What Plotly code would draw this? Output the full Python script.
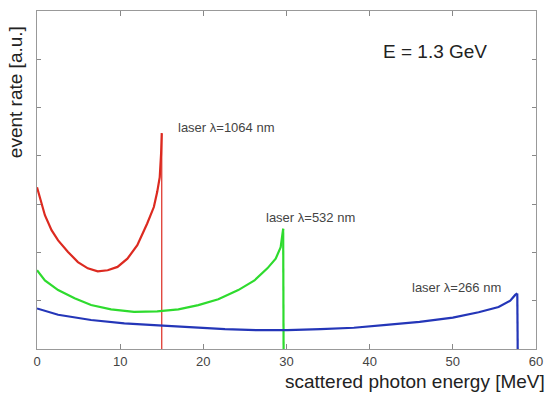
import plotly.graph_objects as go

# ---- data ----
red_x = [0, 0.55, 0.95, 1.75, 2.54, 3.73, 4.92, 6.11, 7.3, 8.5, 9.68, 10.87, 12.06, 13.25, 14.05, 14.45, 14.76, 14.92, 15.0, 15.0]
red_y = [3.35, 3.01, 2.77, 2.46, 2.25, 2.01, 1.80, 1.67, 1.61, 1.63, 1.70, 1.87, 2.15, 2.60, 2.94, 3.25, 3.56, 4.04, 4.47, 0]

green_x = [0, 0.95, 2.54, 4.52, 6.5, 8.9, 11.67, 14.45, 17.0, 19.4, 21.8, 24.2, 26.15, 27.7, 28.7, 29.3, 29.6, 29.65]
green_y = [1.63, 1.42, 1.22, 1.05, 0.91, 0.82, 0.77, 0.78, 0.82, 0.91, 1.03, 1.22, 1.42, 1.67, 1.87, 2.11, 2.49, 0]

blue_x = [0, 2.54, 6.5, 10.5, 14.6, 18.6, 22.6, 26.5, 30.1, 34.1, 38.1, 42.0, 46.0, 50.0, 53.1, 55.5, 56.9, 57.5, 57.75, 57.8]
blue_y = [0.84, 0.71, 0.60, 0.53, 0.49, 0.45, 0.41, 0.39, 0.39, 0.41, 0.44, 0.50, 0.56, 0.65, 0.76, 0.87, 1.00, 1.12, 1.15, 0]

x_ticks = [0, 10, 20, 30, 40, 50, 60]
y_ticks = [0, 1, 2, 3, 4, 5, 6, 7]

labels = ["laser λ=1064 nm", "laser λ=532 nm", "laser λ=266 nm"]
label_x = [16.75, 27.3, 44.8]
label_y = [4.58, 2.73, 1.28]

energy_text = "E = 1.3 GeV"

# ---- figure ----
fig = go.Figure()
series = [(red_x, red_y, "#dc2a20", 1.2), (green_x, green_y, "#2edb2e", 2.2), (blue_x, blue_y, "#2436b8", 2.2)]
for xs, ys, col, drop_w in series:
    # smooth part of the spectrum
    fig.add_trace(go.Scatter(x=xs[:-1], y=ys[:-1], mode="lines", line=dict(color=col, width=2.2),
                             showlegend=False))
    # Compton edge (vertical drop)
    fig.add_trace(go.Scatter(x=xs[-2:], y=ys[-2:], mode="lines", line=dict(color=col, width=drop_w),
                             showlegend=False))

font = "Liberation Sans, Arial, sans-serif"
for t, x, y in zip(labels, label_x, label_y):
    fig.add_annotation(x=x, y=y, text=t, showarrow=False, xanchor="left", yanchor="middle",
                       font=dict(family=font, size=13, color="#444"))

fig.add_annotation(x=41.35, y=6.17, text=energy_text, showarrow=False, xanchor="left", yanchor="middle",
                   font=dict(family=font, size=19, color="#222"))

fig.add_annotation(xref="paper", yref="paper", x=1.0218, y=-0.097, text="scattered photon energy [MeV]",
                   showarrow=False, xanchor="right", yanchor="middle",
                   font=dict(family=font, size=19, color="#222"))
fig.add_annotation(xref="paper", yref="paper", x=-0.044, y=0.76, text="event rate [a.u.]",
                   showarrow=False, textangle=-90, xanchor="center", yanchor="middle",
                   font=dict(family=font, size=19, color="#222"))

fig.update_xaxes(range=[0, 60], tickvals=x_ticks, ticks="inside", ticklen=5, tickcolor="#888",
                 showline=True, linecolor="#999", linewidth=1, mirror="ticks", showgrid=False, zeroline=False,
                 tickfont=dict(family=font, size=13, color="#444"))
fig.update_yaxes(range=[0, 7], tickvals=y_ticks, showticklabels=False, ticks="inside", ticklen=4, tickcolor="#888",
                 showline=True, linecolor="#999", linewidth=1, mirror="ticks", showgrid=False, zeroline=False)

fig.update_layout(width=553, height=395, margin=dict(l=37, r=11, t=10, b=46),
                  paper_bgcolor="white", plot_bgcolor="white")

fig.write_html("out.html")
